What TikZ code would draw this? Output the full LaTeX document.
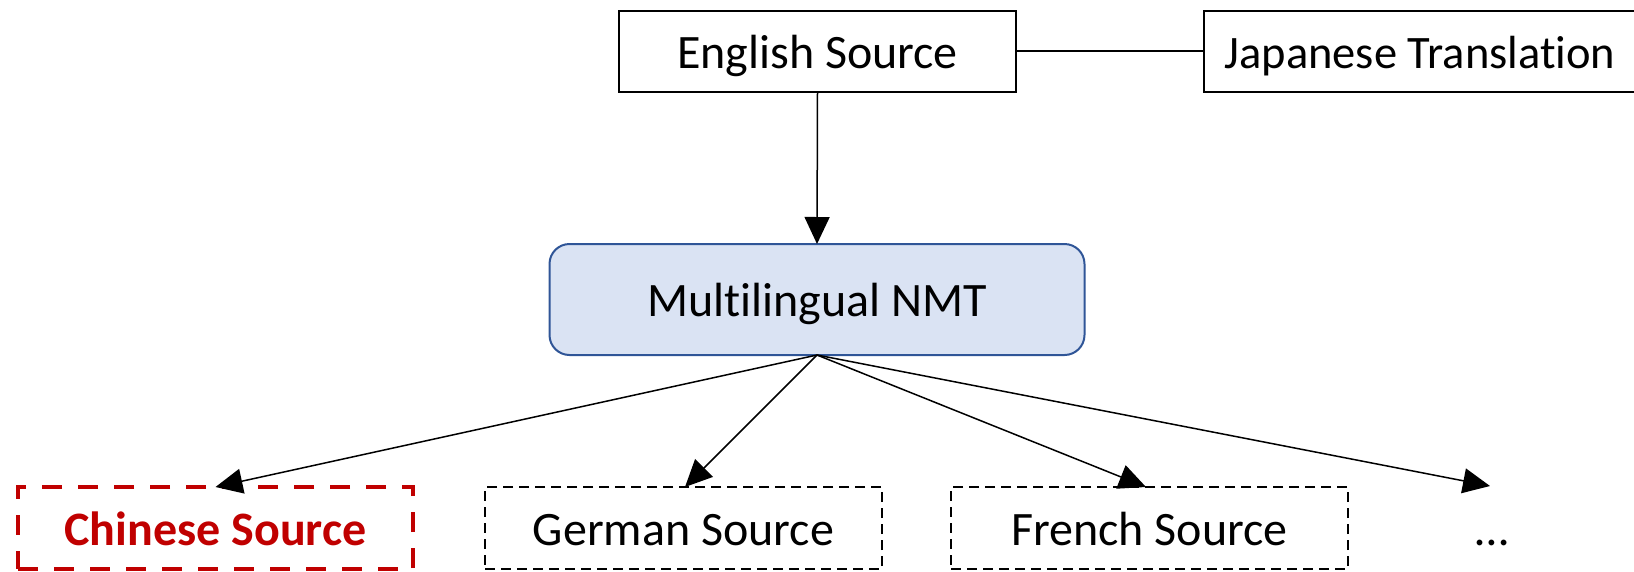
\documentclass[tikz,border=0pt]{standalone}
\usepackage{fontspec}
\setmainfont[Ligatures=NoCommon]{Carlito}
\usetikzlibrary{arrows.meta}
\definecolor{nmtfill}{HTML}{DAE3F3}
\definecolor{nmtdraw}{HTML}{2F5597}
\definecolor{darkred}{HTML}{C00000}
\begin{document}
\begin{tikzpicture}[x=1pt,y=-1pt,
  every node/.style={inner sep=0pt, outer sep=0pt, font=\fontsize{48}{56}\selectfont, text height=40pt, text depth=6pt},
  solidbox/.style={draw=black, line width=2pt, fill=white},
  nmtbox/.style={draw=nmtdraw, line width=2pt, fill=nmtfill, rounded corners=20pt},
  redbox/.style={draw=darkred, line width=4.5pt, dash pattern=on 20pt off 16pt, text=darkred, font=\fontsize{48}{56}\selectfont\bfseries},
  blackdash/.style={draw=black, line width=2pt, dash pattern=on 10pt off 6pt},
  conn/.style={line width=1.5pt},
  arr/.style={conn, -{Triangle[length=27pt,width=25pt]}}
]
\useasboundingbox (0,0) rectangle (1634,571);
\node[solidbox, minimum width=397pt, minimum height=81pt] (en) at (817.5,51) {English Source};
\node[solidbox, minimum width=496pt, minimum height=81pt, font=\fontsize{46.5}{54}\selectfont] (ja) at (1452,51) {\hspace*{-64pt}Japanese Translation};
\node[nmtbox, minimum width=535pt, minimum height=111pt] (nmt) at (817,299.5) {Multilingual NMT};
\node[redbox, minimum width=395pt, minimum height=82pt] (zh) at (215.5,528) {Chinese Source};
\node[blackdash, minimum width=397pt, minimum height=82pt] (de) at (683.5,528) {German Source};
\node[blackdash, minimum width=397pt, minimum height=82pt] (fr) at (1149.5,528) {French Source};
\node (more) at (1492,528) {…};
\coordinate (moretop) at (1490,486);
\draw[conn] (en.east) -- (ja.west);
\draw[arr] (en.south) -- (nmt.north);
\draw[arr] (nmt.south) -- (zh.north);
\draw[arr] (nmt.south) -- (685,487);
\draw[arr] (nmt.south) -- (1146,487);
\draw[arr] (nmt.south) -- (moretop);
\end{tikzpicture}
\end{document}
